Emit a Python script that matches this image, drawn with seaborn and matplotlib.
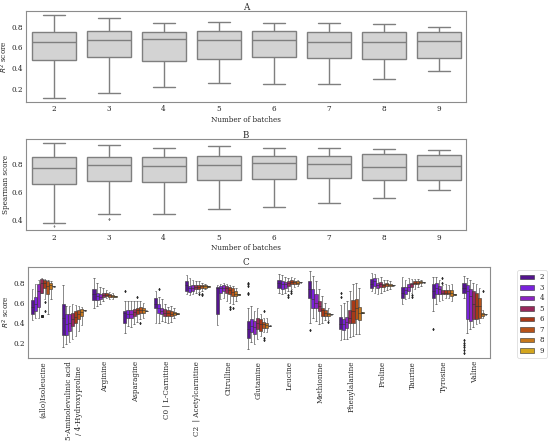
import numpy as np
import pandas as pd
import matplotlib
matplotlib.use("Agg")
import matplotlib.pyplot as plt
import seaborn as sns

batches = ['2', '3', '4', '5', '6', '7', '8', '9']

# five-number summaries: (whisker low, q1, median, q3, whisker high)
r2_stats = [(0.110, 0.477, 0.656, 0.749, 0.913),
            (0.162, 0.511, 0.669, 0.759, 0.890),
            (0.216, 0.470, 0.679, 0.749, 0.838),
            (0.251, 0.486, 0.669, 0.759, 0.848),
            (0.242, 0.502, 0.669, 0.759, 0.838),
            (0.242, 0.496, 0.650, 0.746, 0.838),
            (0.290, 0.489, 0.650, 0.749, 0.829),
            (0.371, 0.496, 0.659, 0.749, 0.800)]

spearman_stats = [(0.383, 0.659, 0.774, 0.853, 0.951),
                  (0.448, 0.683, 0.793, 0.853, 0.941),
                  (0.443, 0.673, 0.790, 0.855, 0.917),
                  (0.484, 0.687, 0.798, 0.860, 0.929),
                  (0.498, 0.697, 0.810, 0.860, 0.920),
                  (0.522, 0.699, 0.802, 0.860, 0.915),
                  (0.558, 0.690, 0.783, 0.872, 0.910),
                  (0.616, 0.690, 0.788, 0.865, 0.903)]
spearman_outliers = {'2': [0.357], '3': [0.407, 0.412]}

metabolites = ['(allo)Isoleucine', '5-Aminolevulinic acid\n/ 4-Hydroxyproline',
               'Arginine', 'Asparagine', 'C0 | L-Carnitine', 'C2  | Acetylcarnitine',
               'Citrulline', 'Glutamine', 'Leucine', 'Methionine', 'Phenylalanine',
               'Proline', 'Taurine', 'Tyrosine', 'Valine']

isoleucine = [(0.429, 0.495, 0.561, 0.626, 0.734), (0.456, 0.521, 0.587, 0.659, 0.784),
              (0.456, 0.561, 0.718, 0.793, 0.833), (0.470, 0.700, 0.800, 0.840, 0.850),
              (0.640, 0.745, 0.800, 0.826, 0.843), (0.495, 0.685, 0.767, 0.816, 0.833),
              (0.640, 0.734, 0.780, 0.800, 0.823), (0.762, 0.765, 0.767, 0.769, 0.772)]
aminolevulinic = [(0.167, 0.285, 0.456, 0.593, 0.777), (0.193, 0.285, 0.390, 0.488, 0.570),
                  (0.210, 0.324, 0.406, 0.488, 0.570), (0.242, 0.373, 0.440, 0.505, 0.587),
                  (0.275, 0.406, 0.460, 0.520, 0.580), (0.324, 0.440, 0.490, 0.528, 0.570),
                  (0.380, 0.472, 0.510, 0.538, 0.560), (0.523, 0.526, 0.528, 0.530, 0.533)]
arginine = [(0.554, 0.626, 0.685, 0.734, 0.849), (0.570, 0.626, 0.669, 0.700, 0.800),
            (0.587, 0.636, 0.659, 0.685, 0.755), (0.620, 0.660, 0.680, 0.695, 0.745),
            (0.645, 0.670, 0.682, 0.695, 0.730), (0.640, 0.662, 0.675, 0.685, 0.710),
            (0.640, 0.659, 0.669, 0.679, 0.700), (0.660, 0.663, 0.665, 0.667, 0.670)]
asparagine = [(0.298, 0.400, 0.505, 0.520, 0.620), (0.374, 0.456, 0.495, 0.528, 0.620),
              (0.357, 0.449, 0.495, 0.528, 0.620), (0.390, 0.472, 0.511, 0.544, 0.620),
              (0.416, 0.490, 0.528, 0.555, 0.620), (0.440, 0.500, 0.531, 0.560, 0.620),
              (0.456, 0.505, 0.531, 0.554, 0.600), (0.516, 0.519, 0.521, 0.523, 0.526)]
carnitine = [(0.400, 0.547, 0.593, 0.652, 0.720), (0.406, 0.505, 0.547, 0.593, 0.660),
             (0.423, 0.488, 0.521, 0.554, 0.636), (0.416, 0.472, 0.505, 0.538, 0.587),
             (0.406, 0.472, 0.502, 0.528, 0.561), (0.416, 0.472, 0.495, 0.521, 0.570),
             (0.449, 0.479, 0.498, 0.515, 0.554), (0.490, 0.493, 0.495, 0.497, 0.500)]
acetylcarnitine = [(0.685, 0.718, 0.777, 0.823, 0.882), (0.675, 0.711, 0.744, 0.767, 0.849),
                   (0.692, 0.718, 0.751, 0.777, 0.833), (0.700, 0.734, 0.757, 0.777, 0.823),
                   (0.705, 0.741, 0.757, 0.774, 0.816), (0.718, 0.744, 0.764, 0.777, 0.800),
                   (0.734, 0.744, 0.764, 0.774, 0.790), (0.759, 0.762, 0.764, 0.766, 0.769)]
citrulline = [(0.383, 0.488, 0.745, 0.757, 0.777), (0.640, 0.700, 0.744, 0.767, 0.784),
              (0.652, 0.718, 0.751, 0.777, 0.800), (0.620, 0.702, 0.744, 0.767, 0.784),
              (0.600, 0.685, 0.725, 0.757, 0.777), (0.593, 0.669, 0.711, 0.744, 0.767),
              (0.620, 0.669, 0.692, 0.718, 0.751), (0.680, 0.683, 0.685, 0.687, 0.690)]
glutamine = [(0.144, 0.250, 0.340, 0.420, 0.550), (0.210, 0.308, 0.374, 0.439, 0.570),
             (0.193, 0.292, 0.357, 0.423, 0.521), (0.242, 0.341, 0.406, 0.456, 0.554),
             (0.275, 0.324, 0.390, 0.439, 0.488), (0.308, 0.350, 0.390, 0.410, 0.456),
             (0.308, 0.350, 0.380, 0.400, 0.456), (0.369, 0.372, 0.374, 0.376, 0.379)]
leucine = [(0.702, 0.744, 0.800, 0.833, 0.889), (0.692, 0.734, 0.784, 0.823, 0.882),
           (0.702, 0.744, 0.784, 0.810, 0.856), (0.718, 0.764, 0.800, 0.816, 0.849),
           (0.734, 0.790, 0.810, 0.833, 0.856), (0.755, 0.790, 0.810, 0.816, 0.849),
           (0.770, 0.790, 0.803, 0.816, 0.833), (0.802, 0.805, 0.807, 0.809, 0.812)]
methionine = [(0.400, 0.646, 0.734, 0.816, 0.921), (0.456, 0.554, 0.636, 0.734, 0.866),
              (0.423, 0.554, 0.603, 0.685, 0.816), (0.390, 0.521, 0.570, 0.620, 0.734),
              (0.406, 0.472, 0.528, 0.554, 0.670), (0.430, 0.472, 0.505, 0.528, 0.600),
              (0.430, 0.470, 0.488, 0.505, 0.550), (0.483, 0.486, 0.488, 0.490, 0.493)]
phenylalanine = [(0.233, 0.340, 0.390, 0.462, 0.580), (0.242, 0.330, 0.390, 0.440, 0.600),
                 (0.242, 0.350, 0.416, 0.460, 0.620), (0.259, 0.397, 0.456, 0.528, 0.720),
                 (0.275, 0.406, 0.521, 0.626, 0.784), (0.292, 0.439, 0.554, 0.636, 0.800),
                 (0.292, 0.429, 0.505, 0.561, 0.751), (0.500, 0.503, 0.505, 0.507, 0.510)]
proline = [(0.716, 0.751, 0.790, 0.843, 0.898), (0.702, 0.767, 0.823, 0.849, 0.889),
           (0.692, 0.744, 0.774, 0.797, 0.849), (0.702, 0.757, 0.790, 0.810, 0.856),
           (0.718, 0.757, 0.777, 0.790, 0.833), (0.725, 0.767, 0.784, 0.797, 0.833),
           (0.734, 0.764, 0.777, 0.790, 0.816), (0.772, 0.775, 0.777, 0.779, 0.782)]
taurine = [(0.590, 0.652, 0.702, 0.757, 0.856), (0.636, 0.685, 0.725, 0.757, 0.833),
           (0.652, 0.718, 0.757, 0.790, 0.849), (0.700, 0.757, 0.784, 0.800, 0.843),
           (0.740, 0.784, 0.800, 0.816, 0.843), (0.755, 0.790, 0.803, 0.816, 0.843),
           (0.770, 0.797, 0.807, 0.816, 0.833), (0.802, 0.805, 0.807, 0.809, 0.812)]
tyrosine = [(0.520, 0.646, 0.718, 0.784, 0.856), (0.587, 0.685, 0.751, 0.800, 0.856),
            (0.620, 0.692, 0.734, 0.767, 0.833), (0.630, 0.685, 0.700, 0.725, 0.780),
            (0.652, 0.685, 0.702, 0.725, 0.784), (0.646, 0.685, 0.702, 0.725, 0.777),
            (0.620, 0.669, 0.702, 0.725, 0.784), (0.680, 0.683, 0.685, 0.687, 0.690)]
valine = [(0.652, 0.702, 0.751, 0.800, 0.866), (0.298, 0.439, 0.718, 0.777, 0.849),
          (0.341, 0.423, 0.670, 0.734, 0.833), (0.357, 0.439, 0.587, 0.718, 0.800),
          (0.390, 0.439, 0.570, 0.702, 0.784), (0.406, 0.456, 0.570, 0.652, 0.751),
          (0.450, 0.472, 0.490, 0.505, 0.530), (0.483, 0.486, 0.488, 0.490, 0.493)]

c_stats = [isoleucine, aminolevulinic, arginine, asparagine, carnitine, acetylcarnitine,
           citrulline, glutamine, leucine, methionine, phenylalanine, proline, taurine,
           tyrosine, valine]

# outlying points: (metabolite index, batch) -> values
c_outliers = {(0, '6'): [0.61, 0.52],
              (3, '2'): [0.72], (3, '6'): [0.66], (3, '7'): [0.40],
              (4, '3'): [0.74],
              (5, '6'): [0.685], (5, '7'): [0.69, 0.68],
              (6, '6'): [0.565, 0.545], (6, '7'): [0.55],
              (7, '2'): [0.80, 0.785, 0.77, 0.70, 0.685], (7, '7'): [0.52, 0.25, 0.23],
              (8, '5'): [0.68, 0.66], (8, '6'): [0.72, 0.70],
              (9, '2'): [0.33], (9, '8'): [0.41],
              (10, '2'): [0.70, 0.66],
              (12, '5'): [0.68, 0.66],
              (13, '2'): [0.341], (13, '5'): [0.85, 0.80],
              (14, '2'): [0.23, 0.20, 0.18, 0.16, 0.13, 0.10], (14, '8'): [0.718]}


def sample(stats, extra=()):
    # repeat the summary so quartiles stay put when a few outliers are added
    return list(stats) * 20 + list(extra)


rows_a = []
rows_b = []
for i, b in enumerate(batches):
    for v in sample(r2_stats[i]):
        rows_a.append((b, v))
    for v in sample(spearman_stats[i], spearman_outliers.get(b, [])):
        rows_b.append((b, v))
df_a = pd.DataFrame(rows_a, columns=['batches', 'score'])
df_b = pd.DataFrame(rows_b, columns=['batches', 'score'])

rows_c = []
for m, name in enumerate(metabolites):
    for j, b in enumerate(batches):
        for v in sample(c_stats[m][j], c_outliers.get((m, b), [])):
            rows_c.append((name, b, v))
df_c = pd.DataFrame(rows_c, columns=['metabolite', 'batches', 'score'])

sns.set_style('white')
plt.rcParams['font.family'] = ['DejaVu Serif']
plt.rcParams['font.size'] = 10.5
plt.rcParams['axes.edgecolor'] = '0.55'
plt.rcParams['axes.linewidth'] = 1.6
plt.rcParams['xtick.major.size'] = 0
plt.rcParams['ytick.major.size'] = 0
plt.rcParams['xtick.major.pad'] = 5
plt.rcParams['ytick.major.pad'] = 4

fig = plt.figure(figsize=(11, 8.96), dpi=50)
ax_a = fig.add_axes([0.0473, 0.7723, 0.8, 0.2031])
ax_b = fig.add_axes([0.0473, 0.4855, 0.8, 0.2042])
ax_c = fig.add_axes([0.0504, 0.2020, 0.8409, 0.2031])

flier = dict(marker='d', markerfacecolor='0.5', markeredgecolor='0.5')

sns.boxplot(data=df_a, x='batches', y='score', order=batches, color='lightgray',
            linewidth=2, fliersize=2, flierprops=flier, ax=ax_a)
ax_a.set_title('A', pad=2)
ax_a.set_xlabel('Number of batches', labelpad=3)
ax_a.set_ylabel('$R^2$ score', labelpad=2)

sns.boxplot(data=df_b, x='batches', y='score', order=batches, color='lightgray',
            linewidth=2, fliersize=2, flierprops=flier, ax=ax_b)
ax_b.set_title('B', pad=2)
ax_b.set_xlabel('Number of batches', labelpad=3)
ax_b.set_ylabel('Spearman score', labelpad=2)
ax_b.set_yticks([0.4, 0.6, 0.8])

flier_c = dict(marker='d', markerfacecolor='0.15', markeredgecolor='0.15')
sns.boxplot(data=df_c, x='metabolite', y='score', hue='batches', order=metabolites,
            hue_order=batches, palette=sns.color_palette('gnuplot', 8),
            linewidth=0.8, fliersize=2.5, flierprops=flier_c, ax=ax_c)
ax_c.set_title('C', pad=2, x=0.472)
ax_c.set_xlabel('')
ax_c.set_ylabel('$R^2$ score', labelpad=2)
ax_c.set_yticks([0.2, 0.4, 0.6, 0.8])
ax_c.tick_params(axis='x', rotation=90)
for lab in ax_c.get_xticklabels():
    lab.set_va('top')

handles, labels = ax_c.get_legend_handles_labels()
ax_c.legend(handles, labels, loc='upper left', bbox_to_anchor=(0.934, 0.404),
            bbox_transform=fig.transFigure, frameon=True, fontsize=10,
            labelspacing=0.36, handleheight=0.6)

fig.savefig('out.png', dpi=50)
